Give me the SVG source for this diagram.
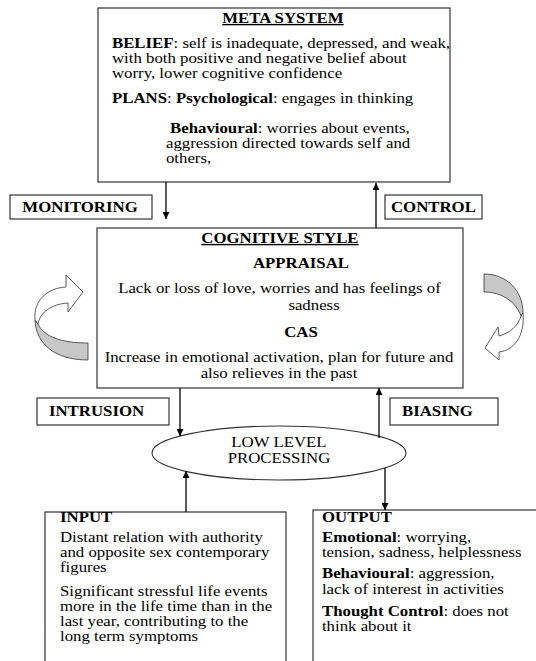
<svg xmlns="http://www.w3.org/2000/svg" width="536" height="661" viewBox="0 0 536 661">
<defs>
<marker id="ah" viewBox="0 0 10 10" refX="10" refY="5" markerWidth="7" markerHeight="7" markerUnits="userSpaceOnUse" orient="auto">
<path d="M0,0 L10,5 L0,10 Z" fill="#000"/>
</marker>
<style>
.box{fill:#fff;stroke:#333;stroke-width:1.2}
.b{font-weight:bold}
.con{stroke:#000;stroke-width:1.3;fill:none}
.curve{stroke:#333;stroke-width:0.8}
</style>
</defs>
<rect width="536" height="661" fill="#fff"/>

<g id="meta">
<rect class="box" x="98" y="8" width="352" height="174"/>
<g transform="scale(1.2 1)">
<text font-family="Liberation Serif" font-size="14" font-weight="bold" text-anchor="middle" text-decoration="underline" x="235.8" y="23">META SYSTEM</text>
<text font-family="Liberation Serif" font-size="14" x="93.3" y="48"><tspan font-weight="bold">BELIEF</tspan>: self is inadequate, depressed, and weak,</text>
<text font-family="Liberation Serif" font-size="14" x="93.3" y="63">with both positive and negative belief about</text>
<text font-family="Liberation Serif" font-size="14" x="93.3" y="78">worry, lower cognitive confidence</text>
<text font-family="Liberation Serif" font-size="14" x="93.3" y="103"><tspan font-weight="bold">PLANS</tspan>: <tspan font-weight="bold">Psychological</tspan>: engages in thinking</text>
<text font-family="Liberation Serif" font-size="14" x="141.7" y="133"><tspan font-weight="bold">Behavioural</tspan>: worries about events,</text>
<text font-family="Liberation Serif" font-size="14" x="138.3" y="148">aggression directed towards self and</text>
<text font-family="Liberation Serif" font-size="14" x="138.3" y="163">others,</text>
</g>
</g>

<g id="monitoring">
<rect class="box" x="10" y="195" width="142" height="24"/>
<text font-family="Liberation Serif" font-size="14" font-weight="bold" text-anchor="middle" transform="scale(1.2 1)" x="66.7" y="212">MONITORING</text>
</g>

<g id="control">
<rect class="box" x="385" y="195" width="97" height="24"/>
<text font-family="Liberation Serif" font-size="14" font-weight="bold" text-anchor="middle" transform="scale(1.2 1)" x="361.2" y="212">CONTROL</text>
</g>

<g id="cognitive">
<rect class="box" x="97" y="228" width="366" height="160"/>
<g transform="scale(1.2 1)">
<text font-family="Liberation Serif" font-size="14" font-weight="bold" text-anchor="middle" text-decoration="underline" x="233.3" y="243">COGNITIVE STYLE</text>
<text font-family="Liberation Serif" font-size="14" font-weight="bold" text-anchor="middle" x="250.8" y="268">APPRAISAL</text>
<text font-family="Liberation Serif" font-size="14" text-anchor="middle" x="232.9" y="293">Lack or loss of love, worries and has feelings of</text>
<text font-family="Liberation Serif" font-size="14" text-anchor="middle" x="261.7" y="310">sadness</text>
<text font-family="Liberation Serif" font-size="14" font-weight="bold" text-anchor="middle" x="250.8" y="337">CAS</text>
<text font-family="Liberation Serif" font-size="14" text-anchor="middle" x="232.5" y="362">Increase in emotional activation, plan for future and</text>
<text font-family="Liberation Serif" font-size="14" text-anchor="middle" x="232.5" y="378">also relieves in the past</text>
</g>
</g>

<g id="loop-left">
<path class="curve" fill="#c8c8c8" d="M38,324 C44,337 62,343 88,343 L88,360 C55,360 36,344 35,320 Z"/>
<path class="curve" fill="#fff" d="M35,320 C33,300 48,288 66,287 L66,275 L83,292 L68,312 L68,303 C52,304 40,312 38,324 Z"/>
</g>

<g id="loop-right">
<path class="curve" fill="#c8c8c8" d="M484,274 C506,274 523,290 523,313 L521,316 C516,302 502,292 484,292 Z"/>
<path class="curve" fill="#fff" d="M521,316 C518,326 510,333 499,336 L498,327 L485,348 L499,360 L499,352 C515,350 525,335 523,313 Z"/>
</g>

<g id="intrusion">
<rect class="box" x="37" y="398" width="132" height="27"/>
<text font-family="Liberation Serif" font-size="14" font-weight="bold" transform="scale(1.2 1)" x="40.8" y="416">INTRUSION</text>
</g>

<g id="biasing">
<rect class="box" x="390" y="398" width="108" height="27"/>
<text font-family="Liberation Serif" font-size="14" font-weight="bold" transform="scale(1.2 1)" x="335" y="416">BIASING</text>
</g>

<g id="lowlevel">
<ellipse cx="279" cy="453" rx="127" ry="27" fill="#fff" stroke="#333" stroke-width="1.1"/>
<g transform="scale(1.2 1)">
<text font-family="Liberation Serif" font-size="14" text-anchor="middle" x="232.5" y="447">LOW LEVEL</text>
<text font-family="Liberation Serif" font-size="14" text-anchor="middle" x="232.5" y="463">PROCESSING</text>
</g>
</g>

<g id="input">
<rect class="box" x="45" y="512" width="241" height="220"/>
<g transform="scale(1.2 1)">
<text font-family="Liberation Serif" font-size="14" font-weight="bold" x="50" y="522">INPUT</text>
<text font-family="Liberation Serif" font-size="14" x="50" y="542">Distant relation with authority</text>
<text font-family="Liberation Serif" font-size="14" x="50" y="557">and opposite sex contemporary</text>
<text font-family="Liberation Serif" font-size="14" x="50" y="572">figures</text>
<text font-family="Liberation Serif" font-size="14" x="50" y="596">Significant stressful life events</text>
<text font-family="Liberation Serif" font-size="14" x="50" y="611">more in the life time than in the</text>
<text font-family="Liberation Serif" font-size="14" x="50" y="626">last year, contributing to the</text>
<text font-family="Liberation Serif" font-size="14" x="50" y="641">long term symptoms</text>
</g>
</g>

<g id="output">
<rect class="box" x="313" y="510" width="260" height="220"/>
<g transform="scale(1.2 1)">
<text font-family="Liberation Serif" font-size="14" font-weight="bold" x="268.3" y="522">OUTPUT</text>
<text font-family="Liberation Serif" font-size="14" x="268.3" y="542"><tspan font-weight="bold">Emotional</tspan>: worrying,</text>
<text font-family="Liberation Serif" font-size="14" x="268.3" y="557">tension, sadness, helplessness</text>
<text font-family="Liberation Serif" font-size="14" x="268.3" y="578"><tspan font-weight="bold">Behavioural</tspan>: aggression,</text>
<text font-family="Liberation Serif" font-size="14" x="268.3" y="594">lack of interest in activities</text>
<text font-family="Liberation Serif" font-size="14" x="268.3" y="616"><tspan font-weight="bold">Thought Control</tspan>: does not</text>
<text font-family="Liberation Serif" font-size="14" x="268.3" y="631">think about it</text>
</g>
</g>

<g id="connectors">
<line class="con" x1="166" y1="182" x2="166" y2="219" marker-end="url(#ah)"/>
<line class="con" x1="376" y1="228" x2="376" y2="183" marker-end="url(#ah)"/>
<line class="con" x1="180" y1="388" x2="180" y2="436" marker-end="url(#ah)"/>
<line class="con" x1="379" y1="438" x2="379" y2="388" marker-end="url(#ah)"/>
<line class="con" x1="186" y1="512" x2="186" y2="471" marker-end="url(#ah)"/>
<line class="con" x1="385" y1="468" x2="385" y2="510" marker-end="url(#ah)"/>
</g>
</svg>
